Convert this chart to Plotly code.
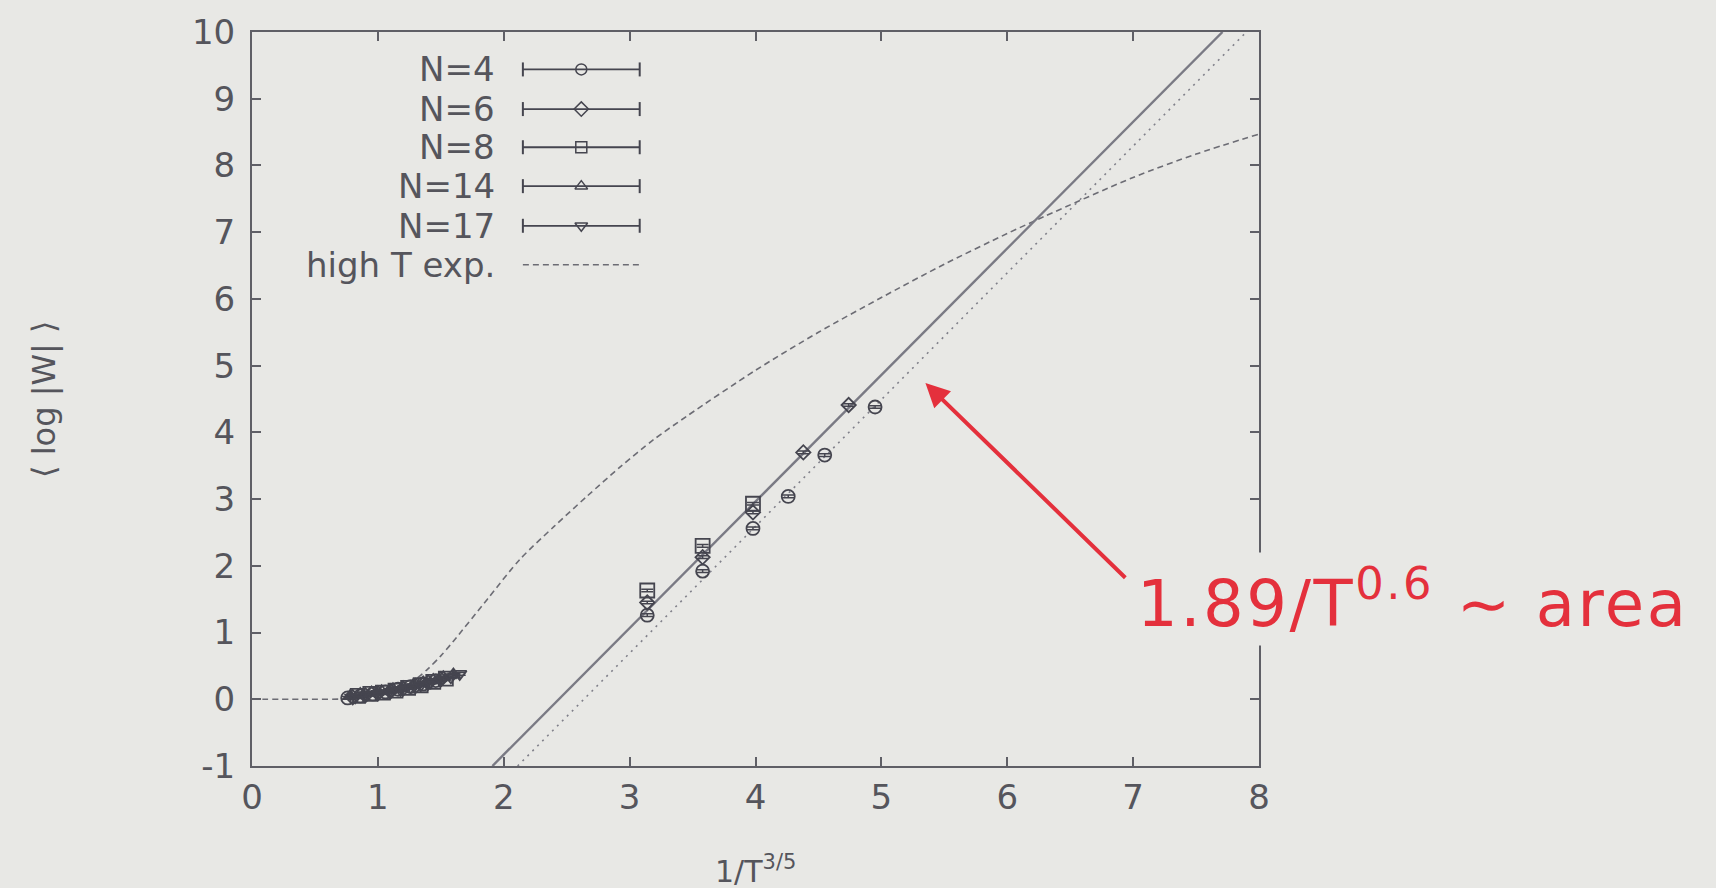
import plotly.graph_objects as go

# ---------------- data ----------------
# high temperature expansion curve
hte_x = [0, 0.4, 0.8, 1.0, 1.1, 1.2, 1.3, 1.4, 1.5, 1.6, 1.87, 2.13, 2.4, 2.66, 2.93,
         3.19, 3.46, 4.0, 4.5, 5.0, 5.5, 6.0, 6.3, 7.0, 7.5, 8.0]
hte_y = [0, 0, 0.01, 0.06, 0.11, 0.19, 0.30, 0.46, 0.65, 0.87, 1.50, 2.10, 2.59, 3.04, 3.49,
         3.89, 4.25, 4.93, 5.50, 6.02, 6.52, 6.98, 7.24, 7.82, 8.17, 8.47]

# linear fits
fit_solid_x = [1.91, 7.71]
fit_solid_y = [-1, 10]
fit_dot_x = [2.11, 7.90]
fit_dot_y = [-1, 10]

# measured data (x = 1/T^{3/5}, y = <log|W|>)
n4_x = [0.76, 0.86, 0.96, 1.06, 1.16, 1.26, 1.36, 1.46, 3.14, 3.58, 3.98, 4.26, 4.55, 4.95]
n4_y = [0.02, 0.05, 0.08, 0.11, 0.15, 0.19, 0.23, 0.28, 1.26, 1.92, 2.56, 3.04, 3.66, 4.38]
n6_x = [0.80, 0.90, 1.00, 1.10, 1.20, 1.30, 1.40, 1.50, 3.14, 3.58, 3.98, 4.38, 4.74]
n6_y = [0.03, 0.06, 0.09, 0.12, 0.16, 0.20, 0.25, 0.30, 1.45, 2.13, 2.80, 3.70, 4.41]
n8_x = [0.84, 0.94, 1.04, 1.14, 1.24, 1.34, 1.44, 1.54, 3.14, 3.58, 3.98]
n8_y = [0.05, 0.08, 0.10, 0.13, 0.17, 0.21, 0.26, 0.31, 1.63, 2.30, 2.93]
n14_x = [0.78, 0.86, 0.95, 1.03, 1.12, 1.20, 1.28, 1.36, 1.44, 1.52, 1.60]
n14_y = [0.05, 0.08, 0.10, 0.12, 0.15, 0.18, 0.21, 0.25, 0.29, 0.33, 0.37]
n17_x = [0.82, 0.90, 1.00, 1.10, 1.18, 1.26, 1.34, 1.42, 1.50, 1.58, 1.65]
n17_y = [0.03, 0.06, 0.08, 0.11, 0.14, 0.18, 0.21, 0.25, 0.29, 0.33, 0.38]

legend_labels = ["N=4", "N=6", "N=8", "N=14", "N=17", "high T exp."]
legend_symbols = ["circle-open", "diamond-open", "square-open", "triangle-up-open", "triangle-down-open", None]

x_ticks = [0, 1, 2, 3, 4, 5, 6, 7, 8]
y_ticks = [-1, 0, 1, 2, 3, 4, 5, 6, 7, 8, 9, 10]
y_ticktext = ["-1", "0", "1", "2", "3", "4", "5", "6", "7", "8", "9", "10"]

# ---------------- style ----------------
BG = "#e8e8e5"
AX = "#5f5f66"
TXT = "#55555c"
MK = "#45454f"
RED = "#e4303c"
FONT = "DejaVu Sans"

fig = go.Figure()

fig.add_trace(go.Scatter(x=hte_x, y=hte_y, mode="lines",
                         line=dict(color="#6c6c74", width=1.6, dash="6px,4px", shape="spline", smoothing=0.8),
                         showlegend=False))
fig.add_trace(go.Scatter(x=fit_solid_x, y=fit_solid_y, mode="lines", line=dict(color="#7a7a84", width=2.4),
                         showlegend=False))
fig.add_trace(go.Scatter(x=fit_dot_x, y=fit_dot_y, mode="lines", line=dict(color="#80808a", width=1.6, dash="2px,5px"),
                         showlegend=False))

series = [(n4_x, n4_y, "circle-open", 13), (n6_x, n6_y, "diamond-open", 11),
          (n8_x, n8_y, "square-open", 14), (n14_x, n14_y, "triangle-up-open", 12),
          (n17_x, n17_y, "triangle-down-open", 12)]
for sx, sy, sym, sz in series:
    fig.add_trace(go.Scatter(
        x=sx, y=sy, mode="markers",
        marker=dict(symbol=sym, size=sz, color=MK, line=dict(color=MK, width=1.8)),
        error_y=dict(type="constant", value=0.02, color=MK, thickness=1.5, width=6),
        showlegend=False))

# legend samples on an overlay axis in [0,1]
row_y = [0.949, 0.895, 0.843, 0.790, 0.736, 0.683]
lx0, lx1, lxm = 0.269, 0.385, 0.327
for i, (lab, sym) in enumerate(zip(legend_labels, legend_symbols)):
    ry = row_y[i]
    if sym is None:
        fig.add_trace(go.Scatter(x=[lx0, lx1], y=[ry, ry], xaxis="x2", yaxis="y2", mode="lines",
                                 line=dict(color="#6c6c74", width=1.6, dash="6px,4px"), showlegend=False))
    else:
        fig.add_trace(go.Scatter(x=[lx0, lx1], y=[ry, ry], xaxis="x2", yaxis="y2", mode="lines+markers",
                                 line=dict(color=MK, width=1.8),
                                 marker=dict(symbol="line-ns", size=10, line=dict(color=MK, width=2)),
                                 showlegend=False))
        fig.add_trace(go.Scatter(x=[lxm], y=[ry], xaxis="x2", yaxis="y2", mode="markers",
                                 marker=dict(symbol=sym, size=11, color=MK, line=dict(color=MK, width=1.5)),
                                 showlegend=False))

annotations = []
for i, lab in enumerate(legend_labels):
    annotations.append(dict(xref="paper", yref="paper", x=0.243, y=row_y[i], xanchor="right", yanchor="middle",
                            text=lab, showarrow=False, font=dict(family=FONT, size=34, color=TXT)))

annotations.append(dict(xref="paper", yref="paper", x=-0.2066, y=0.5, textangle=-90, xanchor="center", yanchor="middle",
                        text="⟨ log |W| ⟩", showarrow=False, font=dict(family=FONT, size=32, color=TXT)))
annotations.append(dict(xref="paper", yref="paper", x=0.5, y=-0.141, xanchor="center", yanchor="middle",
                        text="1/T<sup>3/5</sup>", showarrow=False, font=dict(family=FONT, size=30, color=TXT)))

annotations.append(dict(xref="x", yref="y", x=6.99, y=1.5, xanchor="left", yanchor="middle",
                        text="<span style='letter-spacing:2.5px'>1.89/T<sup>0.6</sup> ∼ area</span>",
                        showarrow=False, bgcolor=BG, borderpad=4,
                        font=dict(family=FONT, size=64, color=RED)))
annotations.append(dict(xref="x", yref="y", x=5.35, y=4.74, axref="x", ayref="y", ax=6.95, ay=1.80,
                        text="", showarrow=True, arrowhead=2, arrowsize=1.2, arrowwidth=4, arrowcolor=RED))

axis_common = dict(showline=True, linecolor=AX, linewidth=2, mirror="ticks", ticks="inside", ticklen=9,
                   tickwidth=2, tickcolor=AX, showgrid=False, zeroline=False,
                   tickfont=dict(family=FONT, size=34, color=TXT))

fig.update_layout(
    width=1716, height=888,
    margin=dict(l=252, r=457, t=30, b=122),
    paper_bgcolor=BG, plot_bgcolor=BG,
    xaxis=dict(range=[0, 8], tickvals=x_ticks, **axis_common),
    yaxis=dict(range=[-1, 10], tickvals=y_ticks, ticktext=y_ticktext, ticklabelstandoff=8, **axis_common),
    xaxis2=dict(range=[0, 1], overlaying="x", visible=False),
    yaxis2=dict(range=[0, 1], overlaying="y", visible=False),
    annotations=annotations,
    showlegend=False,
)

fig.write_html("out.html")
